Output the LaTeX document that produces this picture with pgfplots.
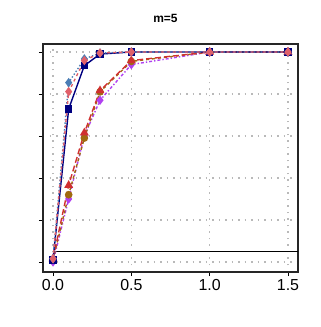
\documentclass[border=0pt]{standalone}
\usepackage{pgfplots}
\pgfplotsset{compat=1.18}
\usepackage{fontspec}
\setmainfont{Liberation Sans}
\setsansfont{Liberation Sans}
\definecolor{cnavy}{HTML}{000080}
\definecolor{csteel}{HTML}{4A7DB5}
\definecolor{cpink}{HTML}{E0606A}
\definecolor{colive}{HTML}{A06A10}
\definecolor{cred}{HTML}{D03030}
\definecolor{cpurple}{HTML}{B040F0}
\begin{document}
\begin{tikzpicture}[x=1bp,y=1bp]
\useasboundingbox (0,0) rectangle (321,327);
\begin{axis}[
  at={(43bp,55bp)}, anchor=south west,
  scale only axis, width=255bp, height=228bp,
  xmin=-0.064, xmax=1.564, ymin=-0.048, ymax=1.038,
  xtick={0,0.5,1,1.5}, ytick={0,0.2,0.4,0.6,0.8,1.0},
  yticklabels={}, 
  xticklabel style={font=\fontsize{16}{18}\selectfont},
  /pgf/number format/assume math mode=true,
  /pgf/number format/fixed, /pgf/number format/fixed zerofill, /pgf/number format/precision=1,
  tick align=outside, tick pos=left, major tick length=4bp,
  tick style={black, line width=0.6pt},
  grid=major, major grid style={gray!55, dash pattern=on 1.5bp off 5bp, line width=1.3bp},
  axis line style={black!85, line width=1.1pt},
  title={\fontsize{12}{14}\selectfont\bfseries m=5},
  title style={at={(0.48,1)}, yshift=12bp},
  every axis plot/.append style={line width=1.4pt, mark size=3.1pt},
]
\addplot[black, line width=0.9pt, no marks] coordinates {(0,0.05) (1.6,0.05)};
\addplot[cpurple, dash dot, mark=diamond*, mark options={solid, fill=cpurple}, mark size=3.6pt] coordinates {
(0,0.0) (0.1,0.30) (0.2,0.60) (0.3,0.77) (0.5,0.94) (1.0,1.0) (1.5,1.0)};
\addplot[colive, dashed, mark=*, mark options={solid, fill=colive}] coordinates {
(0,0.01) (0.1,0.32) (0.2,0.59) (0.3,0.81) (0.5,0.955) (1.0,1.0) (1.5,1.0)};
\addplot[cred, dash pattern=on 6pt off 3pt, mark=triangle*, mark options={solid, fill=cred}, mark size=3.8pt] coordinates {
(0,0.015) (0.1,0.365) (0.2,0.615) (0.3,0.816) (0.5,0.959) (1.0,1.0) (1.5,1.0)};
\addplot[cnavy, solid, mark=square*, mark options={solid, fill=cnavy}] coordinates {
(0,0.01) (0.1,0.729) (0.2,0.935) (0.3,0.99) (0.5,1.0) (1.0,1.0) (1.5,1.0)};
\addplot[csteel, dotted, mark=diamond*, mark options={solid, fill=csteel}, mark size=3.6pt] coordinates {
(0,0.015) (0.1,0.854) (0.2,0.967) (0.3,0.995) (0.5,1.0) (1.0,1.0) (1.5,1.0)};
\addplot[cpink, dashed, mark=diamond*, mark options={solid, fill=cpink}, mark size=3.6pt] coordinates {
(0,0.015) (0.1,0.811) (0.2,0.959) (0.3,0.995) (0.5,1.0) (1.0,1.0) (1.5,1.0)};
\addplot[cred, only marks, mark=triangle*, mark options={fill=cpink, draw=cpink}, mark size=3.4pt] coordinates {(1.0,1.0) (1.5,1.0)};
\end{axis}
\end{tikzpicture}
\end{document}
